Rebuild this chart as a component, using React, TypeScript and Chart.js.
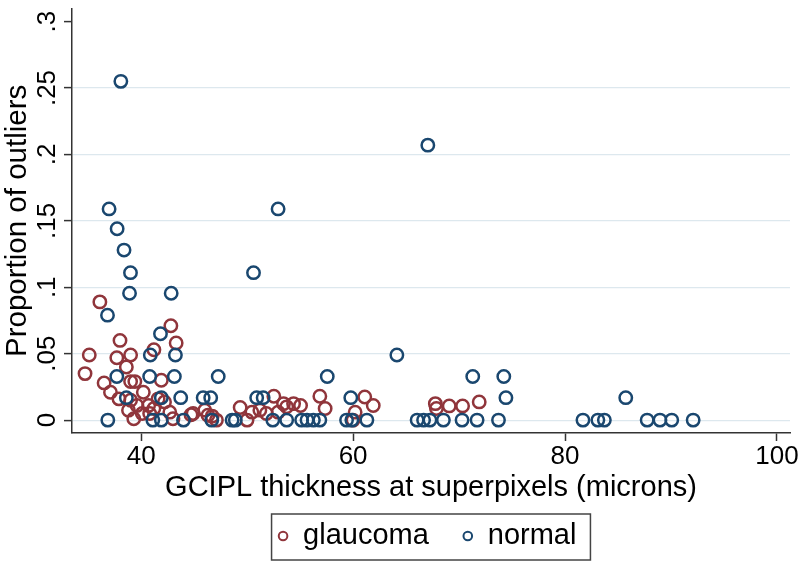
import React, { useEffect, useRef } from "react";
import { Chart, registerables } from "chart.js";

Chart.register(...registerables);

// ---- data ----
const seriesNames = ["glaucoma", "normal"];
const seriesColors = ["#90353b", "#1a476f"];

const glaucomaX = [
  36.1, 42.8, 38.0, 43.3, 35.1, 37.7, 39.0, 41.2, 38.6, 34.7,
  36.5, 39.0, 39.4, 41.9, 40.2, 37.1, 37.9, 39.0, 39.6, 38.8,
  39.3, 40.1, 40.7, 41.6, 42.2, 41.2, 42.7, 44.9, 46.0, 46.3,
  43.0, 44.7, 46.7, 47.1, 40.8, 49.34, 50.45, 51.2, 51.81, 52.92,
  52.52, 53.73, 49.99, 53.43, 54.38, 55.04, 56.86, 57.36, 61.1, 60.19,
  59.99, 61.9, 67.76, 67.86, 69.07, 70.33, 71.9,
];
const glaucomaY = [
  0.089, 0.071, 0.060, 0.058, 0.049, 0.047, 0.049, 0.053, 0.040, 0.035,
  0.028, 0.029, 0.029, 0.030, 0.021, 0.021, 0.016, 0.015, 0.011, 0.0075,
  0.001, 0.005, 0.011, 0.016, 0.0137, 0.0087, 0.006, 0.005, 0.0075, 0.0037,
  0.001, 0.004, 0.003, 0.0, 0.005, 0.0095, 0.006, 0.0075, 0.005, 0.006,
  0.018, 0.010, 0.0, 0.0124, 0.0124, 0.011, 0.018, 0.0087, 0.0174, 0.006,
  0.0, 0.011, 0.0124, 0.0087, 0.0107, 0.0107, 0.0137,
];

const normalX = [
  38.08, 67.05, 36.97, 52.92, 37.73, 38.38, 38.99, 50.6, 38.9, 42.83,
  36.82, 41.82, 40.86, 43.23, 64.13, 37.7, 40.8, 43.13, 47.27, 57.56,
  71.29, 74.22, 38.6, 41.9, 43.73, 45.85, 46.56, 50.9, 51.51, 59.78,
  74.42, 85.73,
  36.85, 41.1, 41.9, 43.99, 46.66, 48.58, 48.88, 52.42, 53.73, 55.14,
  55.65, 56.25, 56.86, 59.38, 59.88, 61.3, 66.04, 66.65, 67.25, 68.52,
  70.28, 71.7, 73.72, 81.69, 83.1, 83.71, 87.75, 88.96, 90.07, 92.09,
];
const normalY = [
  0.255, 0.207, 0.159, 0.159, 0.144, 0.128, 0.111, 0.111, 0.0955, 0.0955,
  0.079, 0.065, 0.049, 0.049, 0.049, 0.0328, 0.0328, 0.0328, 0.0328, 0.0328,
  0.0328, 0.0328, 0.0169, 0.0169, 0.0169, 0.0169, 0.0169, 0.0169, 0.0169, 0.0169,
  0.0169, 0.0169,
  0, 0, 0, 0, 0, 0, 0, 0, 0, 0,
  0, 0, 0, 0, 0, 0, 0, 0, 0, 0,
  0, 0, 0, 0, 0, 0, 0, 0, 0, 0,
];

const xTicks = [40, 60, 80, 100];
const yTicks = [0, 0.05, 0.1, 0.15, 0.2, 0.25, 0.3];
const yTickLabels = ["0", ".05", ".1", ".15", ".2", ".25", ".3"];
const xTitle = "GCIPL thickness at superpixels (microns)";
const yTitle = "Proportion of outliers";

const FONT = '"Liberation Sans", Arial, Helvetica, sans-serif';

const stataLegend = {
  id: "stataLegend",
  afterDraw(chart: any) {
    const { ctx, chartArea } = chart;
    ctx.save();
    ctx.font = `29px ${FONT}`;
    const items = chart.data.datasets.map((ds: any) => ({
      label: ds.label,
      color: ds.borderColor,
      w: ctx.measureText(ds.label).width,
    }));
    const padL = 11.5, markerToText = 20, itemGap = 39, padR = 14;
    const total =
      padL +
      items.reduce((s: number, it: any, i: number) => s + markerToText + it.w + (i ? itemGap : 0), 0) +
      padR;
    const cx = (chartArea.left + chartArea.right) / 2;
    const left = cx - total / 2;
    const top = chart.height - 51;
    const h = 46;
    ctx.strokeStyle = "#444";
    ctx.lineWidth = 1.5;
    ctx.strokeRect(left, top, total, h);
    const cy = top + 22;
    let x = left + padL;
    items.forEach((it: any, i: number) => {
      if (i) x += itemGap;
      ctx.beginPath();
      ctx.arc(x, cy, 4.3, 0, Math.PI * 2);
      ctx.strokeStyle = it.color;
      ctx.lineWidth = 2;
      ctx.stroke();
      ctx.fillStyle = "#000";
      ctx.textBaseline = "middle";
      ctx.textAlign = "left";
      ctx.fillText(it.label, x + markerToText, cy);
      x += markerToText + it.w;
    });
    ctx.restore();
  },
};

export default function App() {
  const ref = useRef<HTMLCanvasElement | null>(null);

  useEffect(() => {
    if (!ref.current) return;
    const toPts = (xs: number[], ys: number[]) => xs.map((x, i) => ({ x, y: ys[i] }));
    const chart = new Chart(ref.current, {
      type: "scatter",
      data: {
        datasets: [
          {
            label: seriesNames[0],
            data: toPts(glaucomaX, glaucomaY),
            borderColor: seriesColors[0],
            backgroundColor: "rgba(0,0,0,0)",
            pointRadius: 6.2,
            pointBorderWidth: 2.5,
            pointStyle: "circle",
            order: 1,
          },
          {
            label: seriesNames[1],
            data: toPts(normalX, normalY),
            borderColor: seriesColors[1],
            backgroundColor: "rgba(0,0,0,0)",
            pointRadius: 6.2,
            pointBorderWidth: 2.5,
            pointStyle: "circle",
            order: 0,
          },
        ],
      },
      options: {
        responsive: false,
        animation: false,
        layout: { padding: { left: 0, right: 10, top: 5, bottom: 0 } },
        plugins: {
          legend: { display: false },
          tooltip: { enabled: false },
        },
        scales: {
          x: {
            type: "linear",
            min: 33.47,
            max: 101.23,
            afterBuildTicks: (s: any) => {
              s.ticks = xTicks.map((v) => ({ value: v }));
            },
            afterFit: (s: any) => {
              s.height = 132;
              s.paddingLeft = 0;
              s.paddingRight = 0;
            },
            ticks: {
              autoSkip: false,
              maxRotation: 0,
              minRotation: 0,
              padding: 0,
              color: "#000",
              font: { family: FONT, size: 26 },
              callback: (v: any) => String(v),
            },
            grid: {
              drawOnChartArea: false,
              drawTicks: true,
              tickLength: 8,
              tickColor: "#333",
              tickWidth: 1.5,
            },
            border: { display: true, color: "#333", width: 1.5 },
            title: {
              display: true,
              text: xTitle,
              color: "#000",
              font: { family: FONT, size: 29 },
              padding: { top: 0, bottom: 60 },
            },
          },
          y: {
            type: "linear",
            min: -0.0097,
            max: 0.3097,
            afterBuildTicks: (s: any) => {
              s.ticks = yTicks.map((v) => ({ value: v }));
            },
            afterFit: (s: any) => {
              s.width = 72;
              s.paddingTop = 0;
              s.paddingBottom = 0;
            },
            ticks: {
              autoSkip: false,
              minRotation: 90,
              maxRotation: 90,
              crossAlign: "center",
              padding: -2,
              color: "#000",
              font: { family: FONT, size: 26 },
              callback: (v: any) => {
                const i = yTicks.findIndex((t) => Math.abs(t - v) < 1e-9);
                return i >= 0 ? yTickLabels[i] : "";
              },
            },
            grid: {
              drawOnChartArea: true,
              color: (c: any) =>
                c.tick && Math.abs(c.tick.value - 0.3) < 1e-9 ? "rgba(0,0,0,0)" : "#dde8ee",
              lineWidth: 1.2,
              tickLength: 8,
              tickColor: "#333",
              tickWidth: 1.5,
            },
            border: { display: true, color: "#333", width: 1.5 },
            title: {
              display: true,
              text: yTitle,
              color: "#000",
              font: { family: FONT, size: 29.5 },
              padding: { top: 0, bottom: 0 },
            },
          },
        },
      },
      plugins: [stataLegend],
    } as any);
    return () => chart.destroy();
  }, []);

  return (
    <div style={{ position: "absolute", left: 0, top: 0, width: 800, height: 565, background: "#fff" }}>
      <canvas ref={ref} width={800} height={565} />
    </div>
  );
}
